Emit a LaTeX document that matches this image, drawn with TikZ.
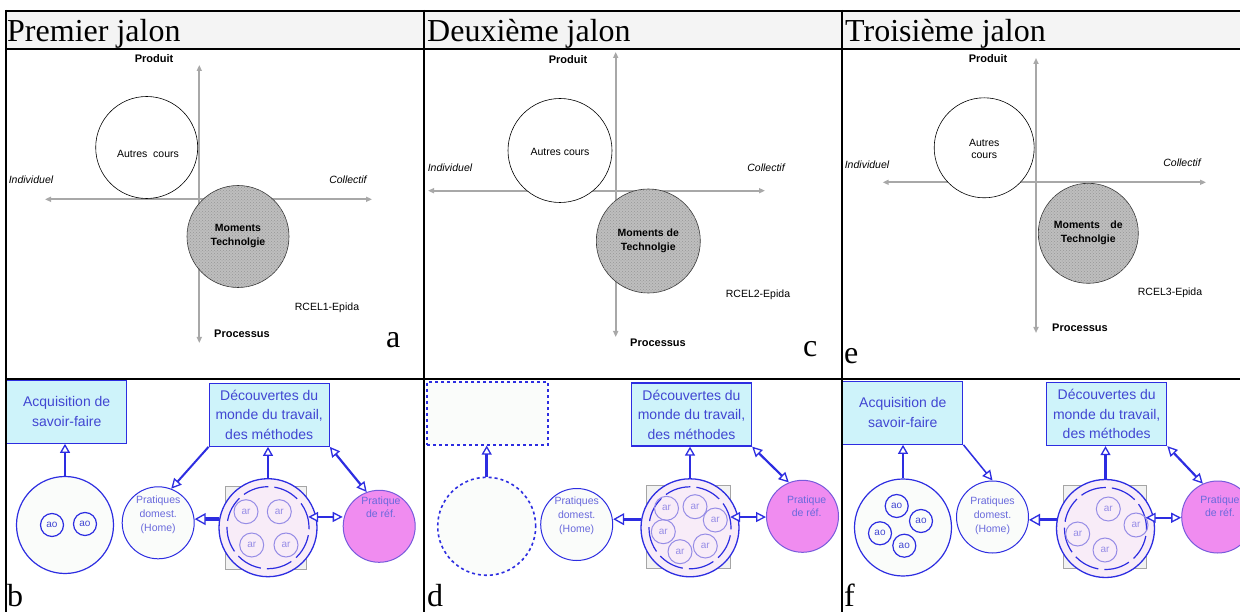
\documentclass[tikz,border=0pt]{standalone}
\usepackage{fontspec}
\setmainfont{Liberation Serif}
\newfontfamily\arial{Liberation Sans}
\usetikzlibrary{arrows.meta,patterns,calc}
\definecolor{axisgray}{RGB}{168,168,168}
\definecolor{titlebg}{RGB}{244,244,244}
\definecolor{discgray}{RGB}{190,190,190}
\definecolor{dotgray}{RGB}{150,150,150}
\definecolor{bline}{RGB}{45,45,225}
\definecolor{btext}{RGB}{65,70,210}
\definecolor{stext}{RGB}{105,105,220}
\definecolor{boxfill}{RGB}{206,243,250}
\definecolor{arcol}{RGB}{150,140,230}
\definecolor{pinkfill}{RGB}{240,140,240}
\definecolor{pinkline}{RGB}{120,90,220}
\definecolor{midfill}{RGB}{248,236,248}
\definecolor{sqfill}{RGB}{242,242,242}
\definecolor{sqline}{RGB}{165,165,165}
\definecolor{palefill}{RGB}{250,252,250}
\begin{document}
\begin{tikzpicture}[x=1pt,y=-1pt,
  tabrule/.style={line width=2pt, black},
  axis/.style={draw=axisgray, line width=2pt,
    {Triangle[length=6pt,width=5pt]}-{Triangle[length=6pt,width=5pt]}},
  axlab/.style={font=\arial\bfseries\fontsize{11}{13}\selectfont, inner sep=0},
  axital/.style={font=\arial\itshape\fontsize{10.5}{12}\selectfont, inner sep=0},
  reflab/.style={font=\arial\fontsize{10.5}{12}\selectfont, inner sep=0},
  whitedisc/.style={circle, draw=black, line width=0.6pt, fill=white, inner sep=0, minimum size=#1},
  graydisc/.style={circle, draw=black!80, line width=0.6pt, fill=discgray, inner sep=0, minimum size=#1,
    postaction={pattern=crosshatch dots, pattern color=dotgray}},
  disctext/.style={font=\arial\fontsize{10.5}{12.5}\selectfont, align=center, inner sep=0},
  bdisctext/.style={font=\arial\bfseries\fontsize{10.5}{14}\selectfont, align=center, inner sep=0},
  titletext/.style={font=\fontsize{32}{36}\selectfont, anchor=base west, inner sep=0},
  goalbox/.style={draw=bline, line width=1.3pt, fill=boxfill, minimum width=120pt, minimum height=63pt,
    inner sep=0, text=btext, font=\arial\fontsize{14}{19.5}\selectfont, align=center},
  emptybox/.style={draw=bline, dashed, line width=1.6pt, fill=palefill, minimum width=121pt, minimum height=63pt, inner sep=0},
  bigdisc/.style={circle, draw=bline, line width=1.2pt, fill=palefill, minimum size=97pt, inner sep=0},
  emptydisc/.style={circle, draw=bline, dashed, line width=1.6pt, fill=palefill, minimum size=98pt, inner sep=0},
  aodisc/.style={circle, draw=bline, line width=1.2pt, minimum size=23pt, inner sep=0, text=btext,
    font=\arial\fontsize{10}{10}\selectfont},
  homedisc/.style={circle, draw=bline, line width=1pt, fill=palefill, minimum size=72pt, inner sep=0},
  hometext/.style={text=stext, font=\arial\fontsize{10.5}{14}\selectfont, align=center, inner sep=0},
  sqback/.style={draw=sqline, fill=sqfill, line width=0.6pt, minimum width=#1, minimum height=83pt, inner sep=0},
  middisc/.style={circle, draw=bline, line width=1.3pt, fill=midfill, minimum size=98pt, inner sep=0},
  ringdisc/.style={circle, draw=bline, line width=1.2pt, dash pattern=on 26pt off 6pt, minimum size=82pt, inner sep=0},
  ardisc/.style={circle, draw=arcol, line width=1pt, minimum size=24pt, inner sep=0, text=arcol,
    font=\arial\fontsize{10}{10}\selectfont},
  pinkdisc/.style={circle, draw=pinkline, line width=1pt, fill=pinkfill, minimum size=72pt, inner sep=0},
  pinktext/.style={text=stext, font=\arial\fontsize{10.5}{13}\selectfont, align=center, inner sep=0},
  tipw/.style={},
  flow/.style={draw=bline, line width=2.8pt, -{Triangle[fill=white, line width=1.3pt, length=9pt, width=10pt]}},
  hflow/.style={draw=bline, line width=3.2pt, -{Triangle[fill=white, line width=1.3pt, length=11pt, width=12pt]}},
  slimflow/.style={draw=bline, line width=#1, -{Triangle[fill=white, line width=1.3pt, length=10pt, width=10pt]}},
  both/.style={draw=bline, line width=2.2pt,
    {Triangle[fill=white, line width=1.3pt, length=10pt, width=10pt]}-{Triangle[fill=white, line width=1.3pt, length=10pt, width=10pt]}}
]
\useasboundingbox (0,0) rectangle (1240,612);
\clip (0,0) rectangle (1240,612);
\fill[white] (0,0) rectangle (1240,612);

% ---------- title row ----------
\fill[titlebg] (6,11) rectangle (1240,49);
\node[titletext] (t1) at (7,42) {Premier jalon};
\node[titletext] (t2) at (427,42) {Deuxième jalon};
\node[titletext] (t3) at (845,42) {Troisième jalon};

% ---------- panel a ----------
\coordinate (aN) at (199.3,65); \coordinate (aS) at (199.3,343);
\coordinate (aW) at (45,199.3); \coordinate (aE) at (372,199.3);
\draw[axis] (aS) -- (aN);
\draw[axis] (aW) -- (aE);
\node[axlab] (aprod) at (154,59) {Produit};
\node[axital] (aind) at (31,180) {Individuel};
\node[axital] (acol) at (348,180) {Collectif};
\node[axlab] (aproc) at (242,334) {Processus};
\node[reflab] (aref) at (327,308) {RCEL1-Epida};
\node[whitedisc=102pt] (awc) at (146.7,147.5) {};
\node[disctext] (awct) at (148,154) {Autres\ \ cours};
\node[graydisc=102pt, bdisctext] (agc) at (238,236.5) {Moments\\Technolgie};
\node[titletext] (la) at (386,348) {a};

% ---------- panel c ----------
\coordinate (cN) at (615.7,52); \coordinate (cS) at (615.7,337);
\coordinate (cW) at (428,190.7); \coordinate (cE) at (765,190.7);
\draw[axis] (cS) -- (cN);
\draw[axis] (cW) -- (cE);
\node[axlab] (cprod) at (568,60) {Produit};
\node[axital] (cind) at (450,168) {Individuel};
\node[axital] (ccol) at (766,168) {Collectif};
\node[axlab] (cproc) at (658,343) {Processus};
\node[reflab] (cref) at (758,295) {RCEL2-Epida};
\node[whitedisc=104pt] (cwc) at (560,150.5) {};
\node[disctext] (cwct) at (560,151.5) {Autres cours};
\node[graydisc=104pt, bdisctext] (cgc) at (648.3,241) {Moments de\\Technolgie};
\node[titletext] (lc) at (803,357) {c};

% ---------- panel e ----------
\coordinate (eN) at (1036,58); \coordinate (eS) at (1036,333);
\coordinate (eW) at (882.7,182.3); \coordinate (eE) at (1206,182.3);
\draw[axis] (eS) -- (eN);
\draw[axis] (eW) -- (eE);
\node[axlab] (eprod) at (988,59) {Produit};
\node[axital] (eind) at (867,165) {Individuel};
\node[axital] (ecol) at (1182,163) {Collectif};
\node[axlab] (eproc) at (1080,328) {Processus};
\node[reflab] (eref) at (1170,293) {RCEL3-Epida};
\node[whitedisc=100pt] (ewc) at (984.2,147.8) {};
\node[disctext] (ewct) at (984.2,149) {Autres\\cours};
\node[graydisc=100pt, bdisctext] (egc) at (1088.3,233.3) {Moments\hspace{1em}de\\Technolgie};
\node[titletext] (le) at (844,363) {e};

% ---------- panel b ----------
\node[goalbox] (acqb) at (66.7,411.7) {Acquisition de\\savoir-faire};
\node[goalbox] (decb) at (269.2,414.7) {Découvertes du\\monde du travail,\\des méthodes};
\node[bigdisc] (bigb) at (65,525) {};
\node[aodisc] (aob1) at (52,525) {ao};
\node[aodisc] (aob2) at (85,524) {ao};
\node[homedisc] (homeb) at (158.2,522.8) {};
\node[hometext] (homebt) at (158.2,515) {Pratiques\\domest.\\(Home)};
\node[sqback=81pt] (sqb) at (266.2,527.8) {};
\node[middisc] (midb) at (268,527.7) {};
\node[ringdisc] (ringb) at (268,527.7) {};
\node[ardisc] (arb1) at (246,511.7) {ar};
\node[ardisc] (arb2) at (279.3,511.7) {ar};
\node[ardisc] (arb3) at (251.7,545) {ar};
\node[ardisc] (arb4) at (286,545) {ar};
\node[pinkdisc] (refb) at (379.2,526.3) {};
\node[pinktext] (refbt) at (381,507.5) {Pratique\\de réf.};
\draw[flow] (bigb.north) -- (bigb.north |- acqb.south);
\draw[flow] (midb.north) -- (midb.north |- decb.south);
\draw[slimflow=2pt] (decb.south west) -- (homeb.69);
\draw[both] (decb.south east) -- (refb.110);
\draw[hflow] (midb.170) -- (midb.170 -| homeb.east);
\draw[both] (ringb.15) -- (ringb.15 -| refb.west);
\node[titletext] (lb) at (7,606) {b};

% ---------- panel d ----------
\node[emptybox] (acqd) at (487.5,413.3) {};
\node[goalbox] (decd) at (691.5,414.5) {Découvertes du\\monde du travail,\\des méthodes};
\node[emptydisc] (bigd) at (486.7,526.3) {};
\node[homedisc] (homed) at (576.7,524.5) {};
\node[hometext] (homedt) at (576.7,516) {Pratiques\\domest.\\(Home)};
\node[sqback=84pt] (sqd) at (688.7,526.7) {};
\node[middisc] (midd) at (690,527.8) {};
\node[ringdisc] (ringd) at (690,527.8) {};
\node[ardisc] (ard1) at (666.5,508.3) {ar};
\node[ardisc] (ard2) at (695,506.7) {ar};
\node[ardisc] (ard3) at (715.3,520) {ar};
\node[ardisc] (ard4) at (663.3,531.7) {ar};
\node[ardisc] (ard5) at (680,551.7) {ar};
\node[ardisc] (ard6) at (705.3,546) {ar};
\node[pinkdisc] (refd) at (802.5,516.3) {};
\node[pinktext] (refdt) at (806.7,506) {Pratique\\de réf.};
\draw[flow] (bigd.north) -- (bigd.north |- acqd.south);
\draw[flow] (midd.north) -- (midd.north |- decd.south);
\draw[both] (decd.south east) -- (refd.112);
\draw[hflow] (midd.170) -- (midd.170 -| homed.east);
\draw[both] (ringd.15) -- (ringd.15 -| refd.west);
\node[titletext] (ld) at (427,606) {d};

% ---------- panel f ----------
\node[goalbox] (acqf) at (902.8,412.7) {Acquisition de\\savoir-faire};
\node[goalbox] (decf) at (1106.7,414) {Découvertes du\\monde du travail,\\des méthodes};
\node[bigdisc] (bigf) at (903,527.5) {};
\node[aodisc] (aof1) at (896.7,506) {ao};
\node[aodisc] (aof2) at (921,521) {ao};
\node[aodisc] (aof3) at (880,533.3) {ao};
\node[aodisc] (aof4) at (904.3,545.7) {ao};
\node[homedisc] (homef) at (992.5,517) {};
\node[hometext] (homeft) at (992.5,516) {Pratiques\\domest.\\(Home)};
\node[sqback=83.4pt] (sqf) at (1105,527) {};
\node[middisc] (midf) at (1105.5,528.5) {};
\node[ringdisc] (ringf) at (1105.5,528.5) {};
\node[ardisc] (arf1) at (1108.3,509) {ar};
\node[ardisc] (arf2) at (1136,525) {ar};
\node[ardisc] (arf3) at (1077.7,534) {ar};
\node[ardisc] (arf4) at (1105,550) {ar};
\node[pinkdisc] (reff) at (1217.7,517) {};
\node[pinktext] (refft) at (1220,506) {Pratique\\de réf.};
\draw[flow] (bigf.north) -- (bigf.north |- acqf.south);
\draw[flow] (midf.north) -- (midf.north |- decf.south);
\draw[slimflow=1.5pt] (acqf.south east) -- (homef.north);
\draw[both] (decf.south east) -- (reff.114);
\draw[hflow] (midf.170) -- (midf.170 -| homef.east);
\draw[both] (ringf.15) -- (ringf.15 -| reff.west);
\node[titletext] (lf) at (844,606) {f};

% ---------- table rules ----------
\draw[tabrule] (5,11) -- (1240,11);
\draw[tabrule] (5,49) -- (1240,49);
\draw[tabrule] (5,379) -- (1240,379);
\draw[tabrule] (6,10) -- (6,612);
\draw[tabrule] (424,10) -- (424,612);
\draw[tabrule] (842,10) -- (842,612);
\end{tikzpicture}
\end{document}
